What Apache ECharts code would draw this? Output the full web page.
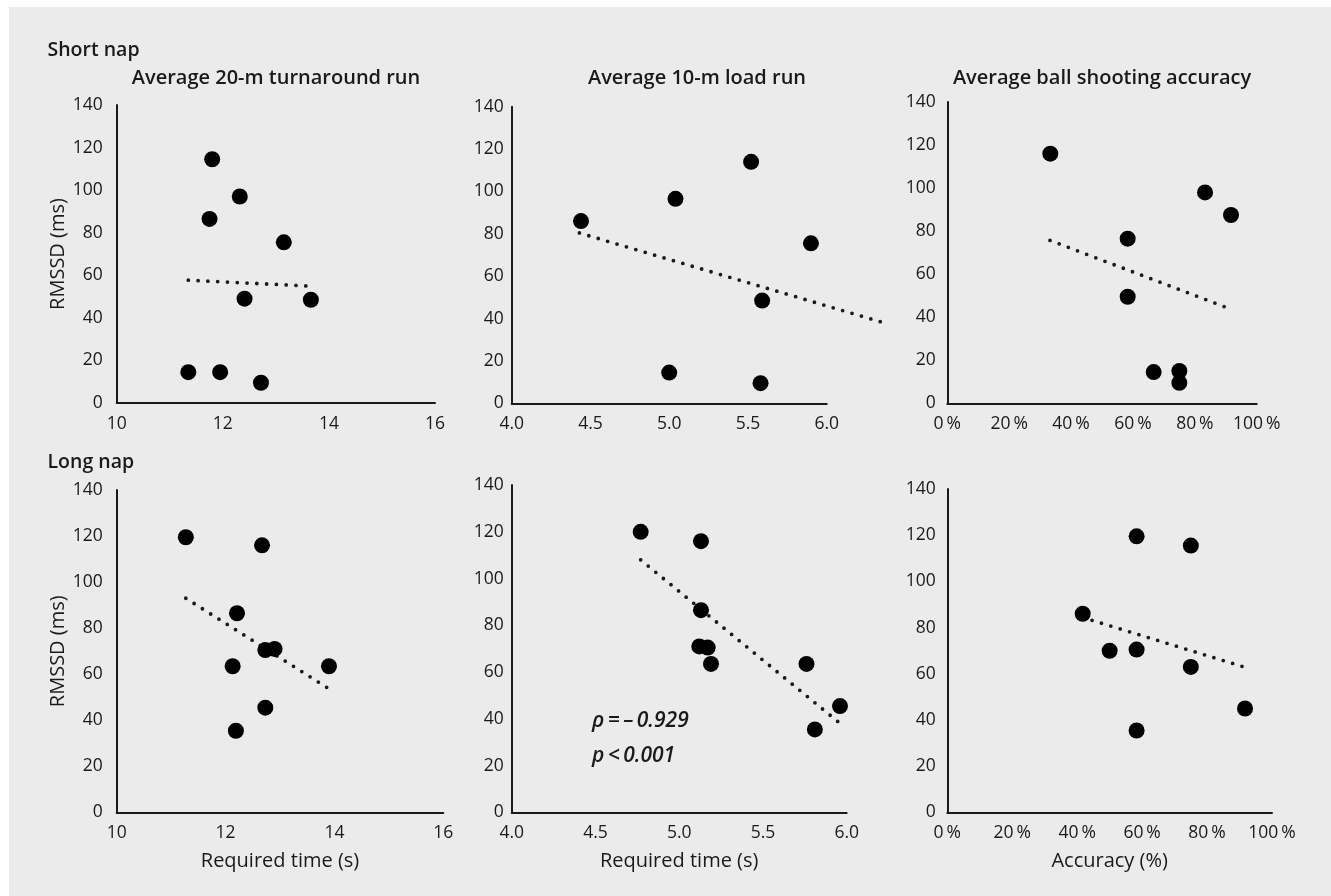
<!DOCTYPE html>
<html>
<head>
<meta charset="utf-8">
<script src="https://cdn.jsdelivr.net/npm/echarts@6/dist/echarts.min.js"></script>
<style>
html,body{margin:0;padding:0;background:#fff;}
#chart{width:1331px;height:896px;}
</style>
</head>
<body>
<div id="chart"></div>
<script>
// ---------- DATA ----------
const rowLabels = ['Short nap', 'Long nap'];
const colTitles = ['Average 20-m turnaround run', 'Average 10-m load run', 'Average ball shooting accuracy'];
const xAxisNames = ['Required time (s)', 'Required time (s)', 'Accuracy (%)'];
const yAxisName = 'RMSSD (ms)';
const yTicks = [0, 20, 40, 60, 80, 100, 120, 140];
const xTicksRun20 = [10, 12, 14, 16];
const xTicksRun10 = [4.0, 4.5, 5.0, 5.5, 6.0];
const xTicksAcc = [0, 20, 40, 60, 80, 100];

// Short nap
const shortRun20X = [11.80, 12.32, 11.75, 13.15, 12.41, 13.66, 11.35, 11.95, 12.72];
const shortRun20Y = [114.5, 97, 86.5, 75.5, 49, 48.5, 14.5, 14.5, 9.5];
const shortRun20Trend = [[11.35, 57.7], [13.58, 55.0]];

const shortRun10X = [4.44, 5.04, 5.52, 5.90, 5.59, 5.00, 5.58];
const shortRun10Y = [86, 96.5, 114, 75.5, 48.5, 14.5, 9.5];
const shortRun10Trend = [[4.43, 80.4], [6.355, 38.2]];

const shortAccX = [33.3, 83.3, 91.7, 58.3, 58.3, 66.7, 75, 75];
const shortAccY = [116, 98, 87.5, 76.5, 49.5, 14.5, 15, 9.5];
const shortAccTrend = [[33.2, 75.7], [90.1, 44.6]];

// Long nap
const longRun20X = [11.27, 12.67, 12.21, 12.73, 12.90, 12.13, 13.90, 12.73, 12.19];
const longRun20Y = [119.5, 116, 86.5, 70.5, 71, 63.5, 63.5, 45.5, 35.5];
const longRun20Trend = [[11.27, 93], [13.88, 54]];

const longRun10X = [4.77, 5.13, 5.13, 5.12, 5.17, 5.19, 5.76, 5.96, 5.81];
const longRun10Y = [120, 116, 86.5, 71, 70.5, 63.5, 63.5, 45.5, 35.5];
const longRun10Trend = [[4.77, 108], [5.95, 38.7]];

const longAccX = [58.3, 75, 41.7, 50, 58.3, 75, 91.7, 58.3];
const longAccY = [119.5, 115.5, 86, 70, 70.5, 63, 45, 35.5];
const longAccTrend = [[41.7, 84.4], [90.9, 63.2]];

const statRho = 'ρ\u2009=\u2009–\u20090.929';
const statP = 'p\u2009<\u20090.001';

// ---------- LAYOUT ----------
const FONT = '"Open Sans", "Noto Sans", sans-serif';
const INK = '#1a1a1a';
const grids = [
  {left: 116.7, top: 105, width: 318.3, height: 298},
  {left: 511.7, top: 106.7, width: 315, height: 296.6},
  {left: 947.3, top: 102, width: 309.4, height: 301.3},
  {left: 116.7, top: 490, width: 326.6, height: 322.5},
  {left: 511.7, top: 485, width: 335, height: 327.5},
  {left: 947.3, top: 489, width: 324.7, height: 323.5}
];
const yLabelMargin = [14, 8, 11.5, 14, 8, 11.5];

const panels = [
  {x: shortRun20X, y: shortRun20Y, trend: shortRun20Trend, ticks: xTicksRun20, fmt: v => String(v)},
  {x: shortRun10X, y: shortRun10Y, trend: shortRun10Trend, ticks: xTicksRun10, fmt: v => v.toFixed(1)},
  {x: shortAccX, y: shortAccY, trend: shortAccTrend, ticks: xTicksAcc, fmt: v => v + '\u2009%'},
  {x: longRun20X, y: longRun20Y, trend: longRun20Trend, ticks: xTicksRun20, fmt: v => String(v)},
  {x: longRun10X, y: longRun10Y, trend: longRun10Trend, ticks: xTicksRun10, fmt: v => v.toFixed(1)},
  {x: longAccX, y: longAccY, trend: longAccTrend, ticks: xTicksAcc, fmt: v => v + '\u2009%'}
];

const xAxis = [], yAxis = [], series = [];
const trendStyle = {color: INK, width: 3.8, type: [0, 9.8], cap: 'round'};
panels.forEach((p, i) => {
  const col = i % 3, row = Math.floor(i / 3);
  const t = p.ticks;
  xAxis.push({
    type: 'value', gridIndex: i,
    min: t[0], max: t[t.length - 1], interval: t[1] - t[0],
    axisLine: {show: true, lineStyle: {color: INK, width: 2}},
    axisTick: {show: false}, splitLine: {show: false},
    axisLabel: {color: INK, fontFamily: FONT, fontSize: 17.5, margin: 12, formatter: p.fmt},
    name: row === 1 ? xAxisNames[col] : '',
    nameLocation: 'middle', nameGap: 39,
    nameTextStyle: {color: INK, fontFamily: FONT, fontSize: 20}
  });
  yAxis.push({
    type: 'value', gridIndex: i,
    min: yTicks[0], max: yTicks[yTicks.length - 1], interval: yTicks[1] - yTicks[0],
    axisLine: {show: true, lineStyle: {color: INK, width: 2}},
    axisTick: {show: false}, splitLine: {show: false},
    axisLabel: {color: INK, fontFamily: FONT, fontSize: 17.5, margin: yLabelMargin[i]},
    name: col === 0 ? yAxisName : '',
    nameLocation: 'middle', nameGap: 47, nameRotate: 90,
    nameTextStyle: {color: INK, fontFamily: FONT, fontSize: 20}
  });
  if (i !== 1) {
    series.push({
      type: 'line', xAxisIndex: i, yAxisIndex: i,
      data: p.trend, symbol: 'none', clip: false, silent: true, z: 3,
      lineStyle: trendStyle
    });
  }
  series.push({
    type: 'scatter', xAxisIndex: i, yAxisIndex: i,
    data: p.x.map((v, k) => [v, p.y[k]]),
    symbol: 'circle', symbolSize: 16, z: 4,
    itemStyle: {color: '#000', opacity: 1}
  });
});

// The short-nap 10-m trend line runs past the end of its x axis (6.0) in the original;
// draw it on a hidden overlay grid that shares the same scale but extends further right.
const extMax = 6.4;
const g1 = grids[1];
grids.push({left: g1.left, top: g1.top, height: g1.height,
  width: g1.width * (extMax - xTicksRun10[0]) / (xTicksRun10[xTicksRun10.length - 1] - xTicksRun10[0])});
xAxis.push({type: 'value', gridIndex: 6, min: xTicksRun10[0], max: extMax, show: false});
yAxis.push({type: 'value', gridIndex: 6, min: yTicks[0], max: yTicks[yTicks.length - 1], show: false});
series.push({
  type: 'line', xAxisIndex: 6, yAxisIndex: 6,
  data: shortRun10Trend, symbol: 'none', silent: true, z: 3,
  lineStyle: trendStyle
});

function txt(text, x, y, size, weight, style, align) {
  return {type: 'text', x, y, silent: true, style: {
    text, fill: INK, fontFamily: FONT, fontSize: size, fontWeight: weight,
    fontStyle: style, textAlign: align, textVerticalAlign: 'middle'
  }};
}
const graphic = [
  {type: 'rect', silent: true, z: -10, shape: {x: 9, y: 7, width: 1322, height: 889}, style: {fill: '#ebebeb'}},
  txt(rowLabels[0], 47.5, 50, 19.5, 600, 'normal', 'left'),
  txt(rowLabels[1], 47.5, 462, 19.5, 600, 'normal', 'left'),
  txt(colTitles[0], 276, 78, 20, 600, 'normal', 'center'),
  txt(colTitles[1], 697, 78, 20, 600, 'normal', 'center'),
  txt(colTitles[2], 1102, 78, 20, 600, 'normal', 'center'),
  txt(statRho, 592, 721, 21, 600, 'italic', 'left'),
  txt(statP, 592, 756, 21, 600, 'italic', 'left')
];

const chart = echarts.init(document.getElementById('chart'), null, {renderer: 'canvas'});
chart.setOption({
  backgroundColor: '#ffffff',
  animation: false,
  grid: grids.map(g => Object.assign({containLabel: false}, g)),
  xAxis, yAxis, series, graphic
});
</script>
</body>
</html>
